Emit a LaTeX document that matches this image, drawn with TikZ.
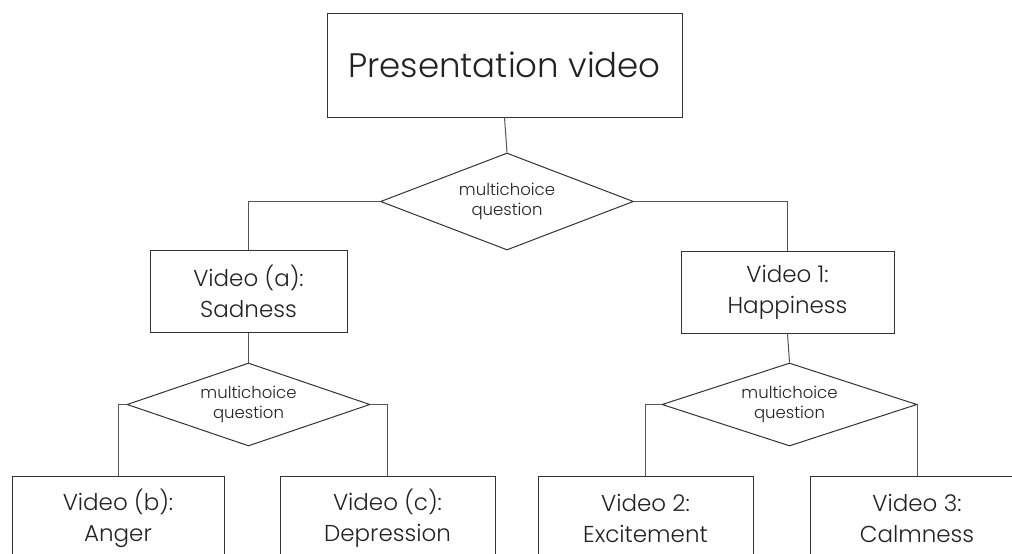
\documentclass[tikz,border=0pt]{standalone}
\usepackage{fontspec}
\setmainfont{Poppins Light}
\usetikzlibrary{shapes.geometric}
\definecolor{boxline}{HTML}{333333}
\definecolor{linkline}{HTML}{555555}
\definecolor{ink}{HTML}{222222}
\tikzset{
  stepbox/.style={draw=boxline, line width=1pt, rectangle, inner sep=0pt,
    align=center, text=ink},
  bigtext/.style={font=\fontsize{34}{40}\selectfont},
  midtext/.style={font=\fontsize{23}{31}\selectfont},
  choice/.style={draw=boxline, line width=1pt, diamond, shape aspect=2.8,
    inner sep=0pt, align=center, text=ink, font=\fontsize{16.5}{20}\selectfont},
  link/.style={draw=linkline, line width=1pt},
}
\begin{document}
\begin{tikzpicture}[x=1pt, y=-1pt]
\useasboundingbox (0,0) rectangle (1012,554);
\clip (0,0) rectangle (1012,554);

% root
\node[stepbox, bigtext, minimum width=355pt, minimum height=104pt] (root) at (504.5,65) {Presentation video};
\node[choice, minimum width=253pt, minimum height=97pt] (q0) at (507,201.5) {multichoice\\question};

% second level
\node[stepbox, midtext, minimum width=197pt, minimum height=82pt] (va) at (248.5,291.5) {Video (a):\\Sadness};
\node[stepbox, midtext, minimum width=213pt, minimum height=82pt] (v1) at (787.5,292) {Video 1:\\Happiness};

\node[choice, minimum width=243pt, minimum height=83pt] (qa) at (248.5,404.5) {multichoice\\question};
\node[choice, minimum width=255pt, minimum height=83pt] (q1) at (789.5,404.5) {multichoice\\question};

% leaves
\node[stepbox, midtext, minimum width=212pt, minimum height=84pt] (vb) at (118,518) {Video (b):\\Anger};
\node[stepbox, midtext, minimum width=215pt, minimum height=84pt] (vc) at (387.5,518) {Video (c):\\Depression};
\node[stepbox, midtext, minimum width=215pt, minimum height=84pt] (v2) at (645.5,518) {Video 2:\\Excitement};
\node[stepbox, midtext, minimum width=214pt, minimum height=84pt] (v3) at (917,518) {Video 3:\\Calmness};

% connectors
\draw[link] (root.south) -- (q0.north);
\draw[link] (q0.west) -| (va.north);
\draw[link] (q0.east) -| (v1.north);
\draw[link] (va.south) -- (qa.north);
\draw[link] (v1.south) -- (q1.north);
\draw[link] (qa.west) -| (vb.north);
\draw[link] (qa.east) -| (vc.north);
\draw[link] (q1.west) -| (v2.north);
\draw[link] (q1.east) -| (v3.north);
\end{tikzpicture}
\end{document}
